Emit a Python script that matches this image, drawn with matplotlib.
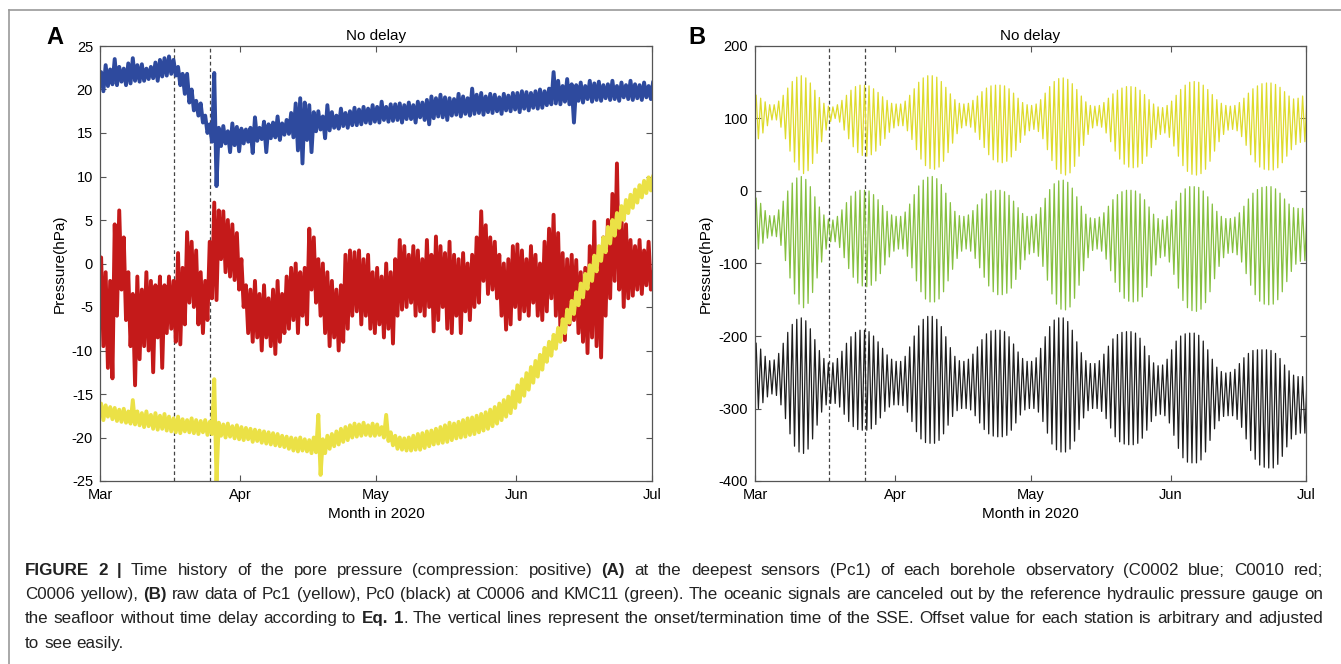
import numpy as np
import matplotlib
matplotlib.use("Agg")
import matplotlib.pyplot as plt
from matplotlib.lines import Line2D

# ---------- data (days after 1 Mar 2020; one high / one low value per day) ----------
MONTH_DAYS = [0, 31, 61, 92, 122]
MONTH_LABELS = ["Mar", "Apr", "May", "Jun", "Jul"]
SSE_DAYS = [16.4, 24.4]          # onset / termination of the SSE

# panel A: Pc1 of C0002 (blue), C0010 (red), C0006 (yellow), hPa
BLUE_HI = [22.0, 22.8, 22.3, 23.5, 22.6, 22.4, 23.0, 23.6, 22.8, 22.9,
           22.4, 22.6, 23.1, 23.4, 23.6, 23.8, 23.4, 22.6, 21.8, 21.8,
           20.0, 18.7, 18.4, 17.0, 16.0, 21.9, 15.6, 15.8, 15.2, 16.1,
           15.7, 15.5, 15.4, 15.6, 16.8, 15.6, 16.3, 16.0, 16.2, 16.9,
           16.1, 16.5, 17.3, 18.4, 19.0, 18.5, 18.2, 17.4, 17.5, 16.9,
           18.2, 17.4, 17.0, 17.8, 17.3, 17.5, 17.9, 17.7, 18.0, 17.8,
           18.2, 18.0, 18.6, 18.0, 18.3, 18.3, 18.4, 18.2, 18.5, 18.2,
           18.6, 18.5, 18.8, 19.2, 19.0, 19.4, 19.1, 19.0, 18.9, 19.5,
           19.2, 19.0, 20.1, 19.4, 19.6, 19.2, 19.5, 19.4, 19.1, 19.5,
           19.3, 19.6, 19.6, 19.8, 19.7, 19.6, 19.8, 20.0, 19.8, 20.1,
           22.0, 21.0, 20.4, 21.2, 20.6, 20.5, 20.8, 20.4, 21.0, 20.7,
           20.9, 20.5, 20.6, 21.0, 20.4, 20.8, 20.5, 21.0, 20.6, 20.5,
           20.8, 20.4, 20.9]
BLUE_LO = [19.8, 20.4, 20.6, 20.5, 20.9, 20.5, 20.7, 21.0, 20.9, 21.0,
           21.2, 21.3, 21.0, 21.5, 21.6, 21.8, 21.6, 20.5, 19.5, 18.5,
           17.6, 17.0, 16.2, 15.0, 14.0, 8.9, 13.5, 13.8, 12.8, 13.6,
           12.9, 13.8, 14.0, 12.7, 14.1, 14.3, 12.8, 14.4, 14.5, 14.2,
           14.8, 14.9, 14.5, 13.0, 11.5, 14.2, 12.8, 15.2, 15.4, 14.4,
           15.3, 15.6, 15.5, 15.8, 15.6, 15.9, 15.9, 16.0, 16.2, 16.1,
           16.3, 16.2, 16.5, 16.3, 16.4, 16.5, 16.2, 16.6, 16.6, 16.2,
           16.8, 16.5, 16.0, 16.7, 16.9, 16.8, 16.5, 17.0, 17.1, 16.9,
           17.2, 17.0, 17.2, 17.3, 17.1, 17.4, 17.3, 17.5, 17.2, 17.6,
           17.5, 17.7, 17.4, 17.8, 17.6, 17.9, 17.8, 17.9, 18.2, 18.3,
           18.4, 18.3, 18.6, 18.3, 16.2, 18.7, 18.5, 18.9, 18.6, 18.8,
           18.7, 19.0, 18.8, 18.9, 18.7, 19.1, 18.9, 18.8, 19.0, 18.8,
           19.1, 18.9, 19.3]
RED_HI = [0.7, -1.0, -2.0, 4.5, 6.1, 3.0, -1.0, -3.5, -1.5, -3.0,
          -1.0, -2.0, -2.5, -1.5, -2.5, -1.5, -2.0, 1.2, -0.5, 3.6,
          2.5, 1.5, -1.0, -2.0, 2.5, 7.0, 6.1, 6.0, 5.0, 4.5,
          3.5, 0.5, -2.5, -3.0, -2.0, -3.5, -2.5, -4.0, -3.0, -2.0,
          -3.5, -1.5, -0.5, 0.0, -1.0, -0.5, 4.0, 3.0, 0.5, 0.0,
          -1.0, -2.0, -3.0, -2.5, 1.0, 1.5, 1.3, 1.5, 0.5, 1.0,
          -1.0, -0.5, -1.5, 0.0, -1.0, 0.5, 2.7, 2.0, 1.0, 2.0,
          1.5, 0.5, 2.7, 1.0, 3.1, 2.0, 1.2, 2.5, 1.0, 0.5,
          1.2, 0.0, 1.0, 3.0, 6.0, 4.4, 3.0, 2.5, 1.0, 0.0,
          0.5, 2.0, 2.2, 1.5, 0.5, 2.0, 1.0, 0.0, 2.5, 4.0,
          5.6, 3.5, 1.2, 0.5, 1.0, 0.4, -1.0, -0.5, 2.0, 4.8,
          1.0, 3.0, 5.0, 8.0, 11.5, 6.0, 4.5, 2.7, 2.0, 2.7,
          1.5, 2.5, -1.0]
RED_LO = [-9.5, -12.0, -13.2, -6.0, -3.0, -6.5, -9.5, -14.0, -11.0, -9.5,
          -10.0, -12.5, -8.5, -12.0, -8.0, -7.5, -9.0, -9.3, -7.0, -4.5,
          -5.0, -7.0, -8.0, -6.5, -4.0, -4.2, 0.5, -1.0, -1.5, -1.9,
          -3.0, -5.0, -8.0, -9.0, -8.5, -10.0, -8.5, -9.5, -10.4, -9.0,
          -8.0, -7.5, -6.5, -8.0, -6.0, -7.0, -3.0, -4.5, -6.0, -8.0,
          -9.5, -8.5, -10.0, -9.0, -7.5, -6.0, -5.5, -7.0, -6.0, -7.5,
          -8.0, -7.0, -8.5, -7.5, -9.2, -6.0, -5.3, -5.0, -4.5, -6.0,
          -5.5, -6.0, -5.0, -7.8, -6.5, -5.0, -7.5, -8.0, -6.0, -8.0,
          -5.5, -6.5, -5.0, -4.5, -2.0, -3.5, -3.0, -4.0, -6.0, -7.6,
          -7.0, -5.0, -6.4, -5.5, -6.0, -4.5, -6.0, -6.5, -5.5, -4.0,
          -6.0, -7.5, -8.8, -7.0, -6.5, -8.0, -9.0, -10.3, -8.5, -9.5,
          -10.8, -6.0, -4.0, -2.0, -3.0, -5.0, -4.0, -3.7, -3.0, -3.5,
          -2.5, -3.0, -2.5]
YEL_HI = [-16.1, -16.3, -16.5, -16.6, -16.8, -16.7, -17.0, -15.7, -17.0, -17.2,
          -17.0, -17.4, -17.2, -17.5, -17.3, -17.6, -17.8, -17.6, -17.9, -18.0,
          -17.8, -18.0, -18.1, -18.0, -18.2, -13.3, -18.3, -18.5, -18.4, -18.7,
          -18.6, -18.8, -18.9, -19.0, -19.1, -19.2, -19.3, -19.4, -19.5, -19.6,
          -19.8, -19.9, -20.0, -20.1, -20.0, -20.2, -20.3, -20.0, -17.4, -20.2,
          -19.8, -19.6, -19.3, -19.0, -18.8, -18.6, -18.4, -18.5, -18.3, -18.6,
          -18.4, -18.5, -18.8, -17.4, -19.4, -19.8, -20.0, -20.1, -20.0, -19.8,
          -19.6, -19.5, -19.3, -19.2, -19.0, -18.8, -18.6, -18.3, -18.4, -18.2,
          -18.0, -17.8, -17.7, -17.5, -17.3, -17.1, -16.8, -16.5, -16.1, -15.7,
          -15.3, -14.7, -14.0, -13.3, -12.6, -11.9, -11.2, -10.5, -9.7, -9.0,
          -8.2, -7.4, -6.4, -5.3, -4.3, -3.3, -2.3, -1.2, -0.2, 0.9,
          2.0, 3.0, 4.2, 5.0, 5.8, 6.6, 7.3, 7.9, 8.5, 9.0,
          9.5, 9.9, 10.1]
YEL_LO = [-18.0, -17.6, -17.9, -18.1, -18.2, -18.3, -18.4, -18.5, -18.6, -18.8,
          -18.7, -19.0, -19.1, -19.0, -19.2, -19.3, -19.4, -19.5, -19.3, -19.4,
          -19.5, -19.6, -19.4, -19.7, -19.6, -25.0, -19.8, -20.0, -19.9, -20.1,
          -20.2, -20.3, -20.2, -20.5, -20.4, -20.6, -20.7, -20.8, -20.9, -21.0,
          -21.1, -21.3, -21.5, -21.6, -21.5, -21.6, -21.8, -21.7, -24.3, -21.8,
          -21.3, -21.0, -20.8, -20.5, -20.3, -20.0, -19.9, -19.8, -19.7, -19.8,
          -19.8, -19.7, -20.0, -20.4, -20.9, -21.3, -21.4, -21.5, -21.5, -21.4,
          -21.4, -21.2, -21.0, -20.8, -20.7, -20.6, -20.5, -20.3, -20.1, -20.0,
          -19.9, -19.7, -19.6, -19.4, -19.2, -19.0, -18.7, -18.4, -18.0, -17.6,
          -17.2, -16.6, -15.9, -15.2, -14.5, -13.7, -13.0, -12.2, -11.3, -10.6,
          -9.8, -9.0, -8.0, -6.8, -5.8, -4.8, -3.9, -2.9, -2.0, -0.9,
          0.3, 1.3, 2.3, 3.2, 4.1, 5.0, 5.8, 6.4, 7.0, 7.6,
          8.1, 8.4, 9.2]

# panel B: raw Pc1 (yellow), KMC11 (green), Pc0 (black), hPa
PC1_HI = [132, 128, 123, 119, 119, 124, 132, 142, 151, 157,
          159, 156, 149, 139, 129, 121, 117, 116, 119, 125,
          132, 139, 144, 146, 146, 145, 141, 136, 130, 125,
          121, 120, 120, 124, 132, 141, 150, 156, 159, 159,
          157, 151, 143, 134, 126, 121, 120, 121, 125, 131,
          137, 142, 145, 146, 146, 145, 141, 135, 128, 122,
          119, 118, 120, 126, 135, 144, 151, 155, 156, 154,
          148, 140, 131, 123, 118, 117, 118, 122, 128, 134,
          139, 142, 144, 144, 143, 139, 133, 126, 120, 116,
          115, 118, 124, 132, 140, 146, 150, 151, 150, 146,
          140, 133, 126, 121, 118, 117, 118, 122, 128, 135,
          141, 145, 148, 149, 149, 147, 143, 137, 131, 127,
          128, 131, 135]
PC1_LO = [72, 80, 90, 98, 98, 88, 72, 55, 40, 29,
          24, 28, 38, 52, 68, 84, 96, 100, 95, 84,
          72, 61, 53, 49, 48, 50, 55, 63, 72, 81,
          87, 90, 90, 83, 71, 57, 44, 35, 31, 30,
          33, 41, 53, 66, 79, 87, 90, 88, 81, 71,
          60, 50, 43, 40, 39, 41, 47, 56, 67, 77,
          83, 85, 82, 72, 57, 42, 30, 24, 22, 25,
          34, 48, 63, 78, 87, 90, 88, 80, 68, 55,
          44, 37, 33, 32, 33, 38, 48, 60, 71, 78,
          80, 74, 62, 48, 35, 27, 23, 22, 24, 30,
          41, 55, 68, 78, 84, 85, 83, 75, 63, 50,
          40, 33, 30, 29, 29, 32, 39, 48, 57, 64,
          67, 68, 68]
KMC_HI = [-10, -17, -27, -34, -34, -26, -14, 0, 11, 18,
          20, 16, 6, -8, -22, -33, -39, -40, -35, -26,
          -16, -7, -1, 1, 1, 0, -5, -12, -20, -28,
          -33, -35, -35, -29, -18, -5, 7, 15, 19, 20,
          17, 9, -3, -16, -28, -34, -35, -33, -27, -19,
          -11, -4, 0, 1, 1, -1, -6, -14, -23, -31,
          -35, -35, -32, -23, -10, 2, 10, 14, 15, 12,
          4, -8, -21, -32, -37, -38, -36, -30, -21, -12,
          -5, -1, 1, 1, 0, -4, -12, -22, -32, -38,
          -40, -35, -26, -14, -3, 3, 6, 6, 5, 0,
          -8, -18, -28, -35, -38, -38, -36, -30, -21, -11,
          -3, 2, 5, 6, 6, 3, -3, -11, -18, -23,
          -24, -24, -24]
KMC_LO = [-80, -72, -65, -62, -63, -75, -96, -120, -142, -156,
          -161, -155, -140, -120, -98, -80, -70, -70, -78, -92,
          -107, -119, -127, -131, -132, -130, -124, -114, -102, -91,
          -83, -80, -80, -90, -106, -124, -139, -149, -153, -153,
          -149, -139, -124, -108, -93, -83, -80, -83, -93, -106,
          -119, -131, -139, -143, -143, -141, -134, -122, -108, -95,
          -87, -85, -90, -104, -123, -142, -156, -163, -164, -160,
          -148, -130, -110, -92, -82, -80, -83, -94, -110, -126,
          -139, -148, -152, -153, -152, -146, -133, -117, -102, -92,
          -90, -98, -115, -134, -151, -161, -165, -166, -163, -154,
          -139, -121, -104, -92, -86, -85, -88, -98, -114, -130,
          -143, -152, -156, -157, -156, -150, -139, -125, -111, -101,
          -97, -96, -97]
PC0_HI = [-210, -218, -228, -234, -233, -224, -210, -195, -184, -177,
          -175, -179, -190, -205, -220, -231, -237, -237, -231, -221,
          -210, -201, -195, -192, -192, -194, -200, -208, -217, -226,
          -232, -235, -235, -228, -215, -200, -186, -177, -173, -173,
          -177, -187, -201, -216, -228, -234, -235, -232, -225, -215,
          -205, -197, -193, -192, -192, -194, -201, -211, -222, -231,
          -235, -235, -230, -217, -201, -187, -178, -175, -175, -180,
          -192, -208, -223, -234, -238, -238, -234, -225, -214, -204,
          -198, -195, -194, -194, -196, -203, -214, -227, -237, -241,
          -240, -232, -219, -207, -200, -197, -196, -196, -199, -207,
          -219, -232, -243, -249, -251, -250, -246, -238, -230, -224,
          -220, -219, -219, -219, -220, -224, -231, -240, -248, -254,
          -256, -256, -256]
PC0_LO = [-300, -292, -284, -280, -282, -295, -314, -335, -352, -360,
          -362, -356, -342, -323, -305, -295, -293, -293, -298, -308,
          -318, -325, -329, -330, -330, -328, -322, -313, -304, -298,
          -295, -295, -296, -305, -318, -332, -342, -347, -348, -348,
          -344, -335, -323, -311, -303, -300, -300, -302, -310, -320,
          -329, -335, -338, -339, -339, -337, -330, -320, -309, -302,
          -300, -300, -305, -318, -334, -349, -357, -360, -360, -356,
          -345, -329, -313, -303, -300, -300, -304, -314, -327, -339,
          -346, -349, -350, -350, -348, -341, -330, -318, -310, -308,
          -310, -320, -337, -355, -368, -374, -375, -375, -371, -360,
          -344, -328, -317, -311, -310, -310, -315, -326, -342, -358,
          -370, -378, -381, -382, -382, -377, -366, -353, -342, -336,
          -334, -334, -334]

CAPTION = [
    "*FIGURE 2 |* Time history of the pore pressure (compression: positive) *(A)* at the deepest sensors (Pc1) of each borehole observatory (C0002 blue; C0010 red;",
    "C0006 yellow), *(B)* raw data of Pc1 (yellow), Pc0 (black) at C0006 and KMC11 (green). The oceanic signals are canceled out by the reference hydraulic pressure gauge on",
    "the seafloor without time delay according to *Eq. 1*. The vertical lines represent the onset/termination time of the SSE. Offset value for each station is arbitrary and adjusted",
    "to see easily.",
]

# ---------- style ----------
plt.rcParams["font.family"] = ["Liberation Sans", "DejaVu Sans"]
plt.rcParams["axes.unicode_minus"] = False
CAP_FONT = ["Liberation Sans", "DejaVu Sans"]

W, H = 1341, 664
fig = plt.figure(figsize=(W / 100, H / 100), dpi=100)


def zigzag(hi, lo):
    d = np.arange(len(hi))
    x = np.column_stack([d + 0.25, d + 0.75]).ravel()
    y = np.column_stack([hi, lo]).ravel()
    return x, y


def style(ax, ylim, yticks):
    ax.set_xlim(MONTH_DAYS[0], MONTH_DAYS[-1])
    ax.set_ylim(*ylim)
    ax.set_xticks(MONTH_DAYS)
    ax.set_xticklabels(MONTH_LABELS)
    ax.set_yticks(yticks)
    ax.tick_params(direction="in", top=True, right=True, length=4, width=0.8,
                   color="#555555", labelsize=10.5, pad=5)
    for s in ax.spines.values():
        s.set_color("#555555"); s.set_linewidth(0.9)
    for d in SSE_DAYS:
        ax.axvline(d, color="#444444", lw=0.9, ls=(0, (3, 2.2)), zorder=1)
    ax.set_title("No delay", fontsize=11, pad=4)
    ax.set_xlabel("Month in 2020", fontsize=11, labelpad=4)
    ax.set_ylabel("Pressure(hPa)", fontsize=11, labelpad=4)


# ---------- A ----------
axA = fig.add_axes([100 / W, 1 - 481 / H, 552 / W, 435 / H])
for hi, lo, c in [(BLUE_HI, BLUE_LO, "#2e4a9e"), (RED_HI, RED_LO, "#c41a1a"),
                  (YEL_HI, YEL_LO, "#ebe146")]:
    x, y = zigzag(hi, lo)
    axA.plot(x, y, color=c, lw=2.8, zorder=2, solid_joinstyle="round",
             solid_capstyle="round")
style(axA, (-25, 25), range(-25, 26, 5))

# ---------- B ----------
axB = fig.add_axes([755 / W, 1 - 481 / H, 551 / W, 435 / H])
for hi, lo, c in [(PC1_HI, PC1_LO, "#dedb2c"), (KMC_HI, KMC_LO, "#86c040"),
                  (PC0_HI, PC0_LO, "#1e1e1e")]:
    x, y = zigzag(hi, lo)
    axB.plot(x, y, color=c, lw=0.9, zorder=2)
style(axB, (-400, 200), range(-400, 201, 100))

fig.text(55 / W, 1 - 38 / H, "A", fontsize=17, fontweight="bold", ha="center", va="center")
fig.text(697 / W, 1 - 38 / H, "B", fontsize=17, fontweight="bold", ha="center", va="center")

# figure frame (top + left)
fig.add_artist(Line2D([9 / W, 1], [1 - 10 / H, 1 - 10 / H], transform=fig.transFigure,
                      color="#9a9a9a", lw=1.2))
fig.add_artist(Line2D([9 / W, 9 / W], [1 - 10 / H, 0], transform=fig.transFigure,
                      color="#9a9a9a", lw=1.2))

# ---------- caption (justified, mixed bold) ----------
renderer = fig.canvas.get_renderer()


def parse(line):
    words = [[]]
    for i, seg in enumerate(line.split("*")):
        bold = i % 2 == 1
        for j, p in enumerate(seg.split(" ")):
            if j > 0:
                words.append([])
            if p:
                words[-1].append((p, bold))
    return [w for w in words if w]


def measure(s, bold, size):
    t = fig.text(0, 0, s, fontsize=size, family=CAP_FONT, fontweight="bold" if bold else "normal")
    w = t.get_window_extent(renderer).width
    t.remove()
    return w


X0, X1 = 25, 1323
lines = [parse(l) for l in CAPTION]


def natural_width(size):
    sp = measure("a a", False, size) - measure("aa", False, size)
    return max(sum(measure(p, b, size) for w in ws for p, b in w) + sp * (len(ws) - 1)
               for ws in lines[:-1])


size = 11.0
size *= (X1 - X0) * 0.99 / natural_width(size)
space = measure("a a", False, size) - measure("aa", False, size)

baselines = [575, 599, 623, 648]
for k, (ws, yb) in enumerate(zip(lines, baselines)):
    widths = [[measure(p, b, size) for p, b in w] for w in ws]
    total = sum(sum(w) for w in widths)
    gap = (X1 - X0 - total) / (len(ws) - 1) if k < len(lines) - 1 else space
    x = X0
    for w, wd in zip(ws, widths):
        for (p, b), pw in zip(w, wd):
            fig.text(x / W, 1 - yb / H, p, fontsize=size, family=CAP_FONT, color="#222222",
                     fontweight="bold" if b else "normal", va="baseline", ha="left")
            x += pw
        x += gap

fig.savefig("out.png", dpi=100)
